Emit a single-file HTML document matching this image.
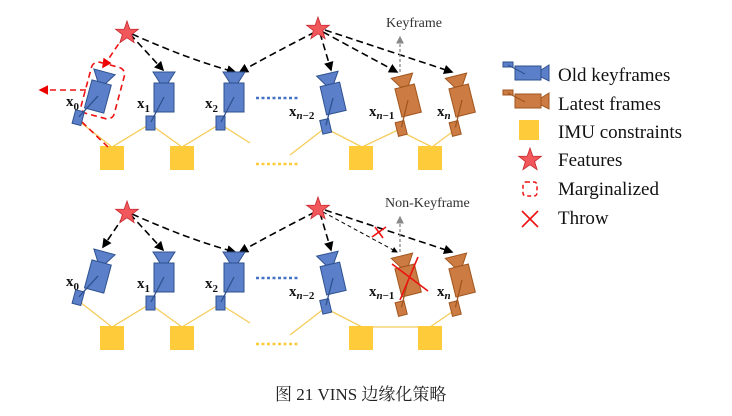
<!DOCTYPE html>
<html><head><meta charset="utf-8"><style>
html,body{margin:0;padding:0;background:#fff;}
svg{display:block;}
</style></head><body>
<svg width="732" height="416" viewBox="0 0 732 416" xmlns="http://www.w3.org/2000/svg">
<defs>
<g id="camb">
<polygon points="-11,-25 11,-25 4,-14 -4,-14" fill="#5b7fc9" stroke="#2f528f" stroke-width="1"/>
<rect x="-10" y="-14" width="20" height="29" fill="#5b7fc9" stroke="#2f528f" stroke-width="1"/>
<rect x="-18" y="19" width="9" height="14" fill="#5b7fc9" stroke="#2f528f" stroke-width="1"/>
<line x1="0" y1="0" x2="-13" y2="25" stroke="#2f528f" stroke-width="1.3"/>
</g>
<g id="camo">
<polygon points="-11,-25 11,-25 4,-14 -4,-14" fill="#cc7b42" stroke="#a0561f" stroke-width="1"/>
<rect x="-10" y="-14" width="20" height="29" fill="#cc7b42" stroke="#a0561f" stroke-width="1"/>
<rect x="-18" y="19" width="9" height="14" fill="#cc7b42" stroke="#a0561f" stroke-width="1"/>
<line x1="0" y1="0" x2="-13" y2="25" stroke="#a0561f" stroke-width="1.3"/>
</g>
<polygon id="star" points="0,-12 2.8,-3.9 11.4,-3.7 4.6,1.5 7.1,9.7 0,4.8 -7.1,9.7 -4.6,1.5 -11.4,-3.7 -2.8,-3.9" fill="#f0585c" stroke="#c8282e" stroke-width="0.8"/>
<marker id="ab" markerWidth="6" markerHeight="6" refX="5" refY="3" orient="auto"><path d="M0,0 L6,3 L0,6 z" fill="#000"/></marker>
<marker id="ar" markerWidth="6" markerHeight="6" refX="5" refY="3" orient="auto"><path d="M0,0 L6,3 L0,6 z" fill="#e00"/></marker>
<marker id="ag" markerWidth="6" markerHeight="6" refX="5" refY="3" orient="auto"><path d="M0,0 L6,3 L0,6 z" fill="#888"/></marker>
</defs>

<!-- TOP ROW -->
<g stroke="#f5cc5a" stroke-width="1.3" fill="none">
<polyline points="150,124 112,147 80,122"/>
<polyline points="150,124 182,147 220,124"/>
<line x1="220" y1="124" x2="250" y2="143"/>
<line x1="290" y1="155" x2="325" y2="128"/>
<polyline points="325,128 362,147 398,130 432,147 455,130"/>
</g>
<g fill="#fecb3b">
<rect x="100" y="146" width="24" height="24"/><rect x="170" y="146" width="24" height="24"/>
<rect x="349" y="146" width="24" height="24"/><rect x="418" y="146" width="24" height="24"/>
</g>
<line x1="256" y1="98" x2="300" y2="98" stroke="#4472c4" stroke-width="2.5" stroke-dasharray="3,2.5"/>
<line x1="256" y1="164" x2="300" y2="164" stroke="#fecb3b" stroke-width="2.5" stroke-dasharray="3,2.5"/>

<g stroke="#000" stroke-width="1.6" stroke-dasharray="7,4" fill="none" marker-end="url(#ab)">
<line x1="130" y1="34" x2="163" y2="70"/>
<path d="M132,34 Q190,60 235,72"/>
<path d="M315,32 Q270,55 240,72"/>
<line x1="320" y1="33" x2="331" y2="70"/>
<line x1="323" y1="32" x2="397" y2="72"/>
<line x1="325" y1="30" x2="452" y2="72"/>
</g>
<g stroke="#e11" stroke-width="1.6" stroke-dasharray="6,4" fill="none">
<line x1="124" y1="36" x2="103" y2="67" marker-end="url(#ar)"/>
<line x1="86" y1="90" x2="40" y2="90" marker-end="url(#ar)"/>
<line x1="82" y1="122" x2="108" y2="147"/>
<rect x="86" y="64" width="34" height="53" rx="7" transform="rotate(15 103 90)"/>
</g>
<line x1="400" y1="72" x2="400" y2="37" stroke="#888" stroke-width="1.3" stroke-dasharray="3,2" marker-end="url(#ag)"/>
<text x="386" y="27" font-family="Liberation Serif, serif" font-size="14" fill="#333">Keyframe</text>

<use href="#camb" transform="translate(98,96) rotate(15)"/>
<use href="#camb" transform="translate(164,97)"/>
<use href="#camb" transform="translate(234,97)"/>
<use href="#camb" transform="translate(333,98) rotate(-13)"/>
<use href="#camo" transform="translate(408,100) rotate(-14)"/>
<use href="#camo" transform="translate(462,100) rotate(-14)"/>
<use href="#star" transform="translate(127,33)"/>
<use href="#star" transform="translate(318,29)"/>

<g font-family="Liberation Serif, serif" font-weight="bold" font-size="15" fill="#111">
<text x="66" y="106">x<tspan font-size="11" dy="4">0</tspan></text>
<text x="137" y="108">x<tspan font-size="11" dy="4">1</tspan></text>
<text x="205" y="108">x<tspan font-size="11" dy="4">2</tspan></text>
<text x="289" y="116">x<tspan font-size="11" dy="3" font-style="italic">n</tspan><tspan font-size="11">−2</tspan></text>
<text x="369" y="116">x<tspan font-size="11" dy="3" font-style="italic">n</tspan><tspan font-size="11">−1</tspan></text>
<text x="437" y="116">x<tspan font-size="11" dy="3" font-style="italic">n</tspan></text>
</g>

<!-- BOTTOM ROW -->
<g transform="translate(0,180)">
<g stroke="#f5cc5a" stroke-width="1.3" fill="none">
<polyline points="150,124 112,147 80,122"/>
<polyline points="150,124 182,147 220,124"/>
<line x1="220" y1="124" x2="250" y2="143"/>
<line x1="290" y1="155" x2="325" y2="128"/>
<polyline points="325,128 362,147 430,147 455,130"/>
</g>
<g fill="#fecb3b">
<rect x="100" y="146" width="24" height="24"/><rect x="170" y="146" width="24" height="24"/>
<rect x="349" y="146" width="24" height="24"/><rect x="418" y="146" width="24" height="24"/>
</g>
<line x1="256" y1="98" x2="300" y2="98" stroke="#4472c4" stroke-width="2.5" stroke-dasharray="3,2.5"/>
<line x1="256" y1="164" x2="300" y2="164" stroke="#fecb3b" stroke-width="2.5" stroke-dasharray="3,2.5"/>
<g stroke="#000" stroke-width="1.6" stroke-dasharray="7,4" fill="none" marker-end="url(#ab)">
<line x1="124" y1="36" x2="103" y2="67"/>
<line x1="130" y1="34" x2="163" y2="70"/>
<path d="M132,34 Q190,60 235,72"/>
<path d="M315,32 Q270,55 240,72"/>
<line x1="320" y1="33" x2="331" y2="70"/>
<line x1="325" y1="30" x2="452" y2="72"/>
</g>
<line x1="323" y1="32" x2="397" y2="72" stroke="#000" stroke-width="1" stroke-dasharray="4,3" marker-end="url(#ab)"/>
<line x1="400" y1="72" x2="400" y2="37" stroke="#888" stroke-width="1.3" stroke-dasharray="3,2" marker-end="url(#ag)"/>
<use href="#camb" transform="translate(98,96) rotate(15)"/>
<use href="#camb" transform="translate(164,97)"/>
<use href="#camb" transform="translate(234,97)"/>
<use href="#camb" transform="translate(333,98) rotate(-13)"/>
<use href="#camo" transform="translate(408,100) rotate(-14)"/>
<use href="#camo" transform="translate(462,100) rotate(-14)"/>
<use href="#star" transform="translate(127,33)"/>
<use href="#star" transform="translate(318,29)"/>
<g stroke="#e11" stroke-width="1.6">
<line x1="392" y1="84" x2="428" y2="111"/><line x1="400" y1="120" x2="418" y2="77"/>
<line x1="372" y1="57" x2="386" y2="47"/><line x1="375" y1="47" x2="383" y2="58"/>
</g>
<g font-family="Liberation Serif, serif" font-weight="bold" font-size="15" fill="#111">
<text x="66" y="106">x<tspan font-size="11" dy="4">0</tspan></text>
<text x="137" y="108">x<tspan font-size="11" dy="4">1</tspan></text>
<text x="205" y="108">x<tspan font-size="11" dy="4">2</tspan></text>
<text x="289" y="116">x<tspan font-size="11" dy="3" font-style="italic">n</tspan><tspan font-size="11">−2</tspan></text>
<text x="369" y="116">x<tspan font-size="11" dy="3" font-style="italic">n</tspan><tspan font-size="11">−1</tspan></text>
<text x="437" y="116">x<tspan font-size="11" dy="3" font-style="italic">n</tspan></text>
</g>
</g>
<text x="385" y="207" font-family="Liberation Serif, serif" font-size="14" fill="#333">Non-Keyframe</text>

<!-- LEGEND -->
<g transform="translate(503,62)">
<rect x="0" y="0" width="10" height="5" fill="#5b7fc9" stroke="#2f528f"/>
<rect x="12" y="4" width="26" height="14" fill="#5b7fc9" stroke="#2f528f"/>
<polygon points="38,8 46,3 46,19 38,15" fill="#5b7fc9" stroke="#2f528f"/>
<line x1="5" y1="3" x2="22" y2="12" stroke="#2f528f"/>
</g>
<g transform="translate(503,90)">
<rect x="0" y="0" width="10" height="5" fill="#cc7b42" stroke="#a0561f"/>
<rect x="12" y="4" width="26" height="14" fill="#cc7b42" stroke="#a0561f"/>
<polygon points="38,8 46,3 46,19 38,15" fill="#cc7b42" stroke="#a0561f"/>
<line x1="5" y1="3" x2="22" y2="12" stroke="#a0561f"/>
</g>
<rect x="519" y="120" width="20" height="20" fill="#fecb3b"/>
<use href="#star" transform="translate(530,160)"/>
<rect x="523" y="182" width="14" height="14" rx="3" fill="none" stroke="#e11" stroke-width="1.5" stroke-dasharray="4,3"/>
<g stroke="#e11" stroke-width="1.6"><line x1="522" y1="211" x2="538" y2="227"/><line x1="538" y1="211" x2="522" y2="227"/></g>
<g font-family="Liberation Serif, serif" font-size="19" fill="#111">
<text x="558" y="81">Old keyframes</text>
<text x="558" y="110">Latest frames</text>
<text x="558" y="138">IMU constraints</text>
<text x="558" y="166">Features</text>
<text x="558" y="195">Marginalized</text>
<text x="558" y="224">Throw</text>
</g>

<text x="275" y="400" font-family="Liberation Serif, 'Noto Serif CJK SC', serif" font-size="17" fill="#222">图 21 VINS 边缘化策略</text>
</svg>
</body></html>
